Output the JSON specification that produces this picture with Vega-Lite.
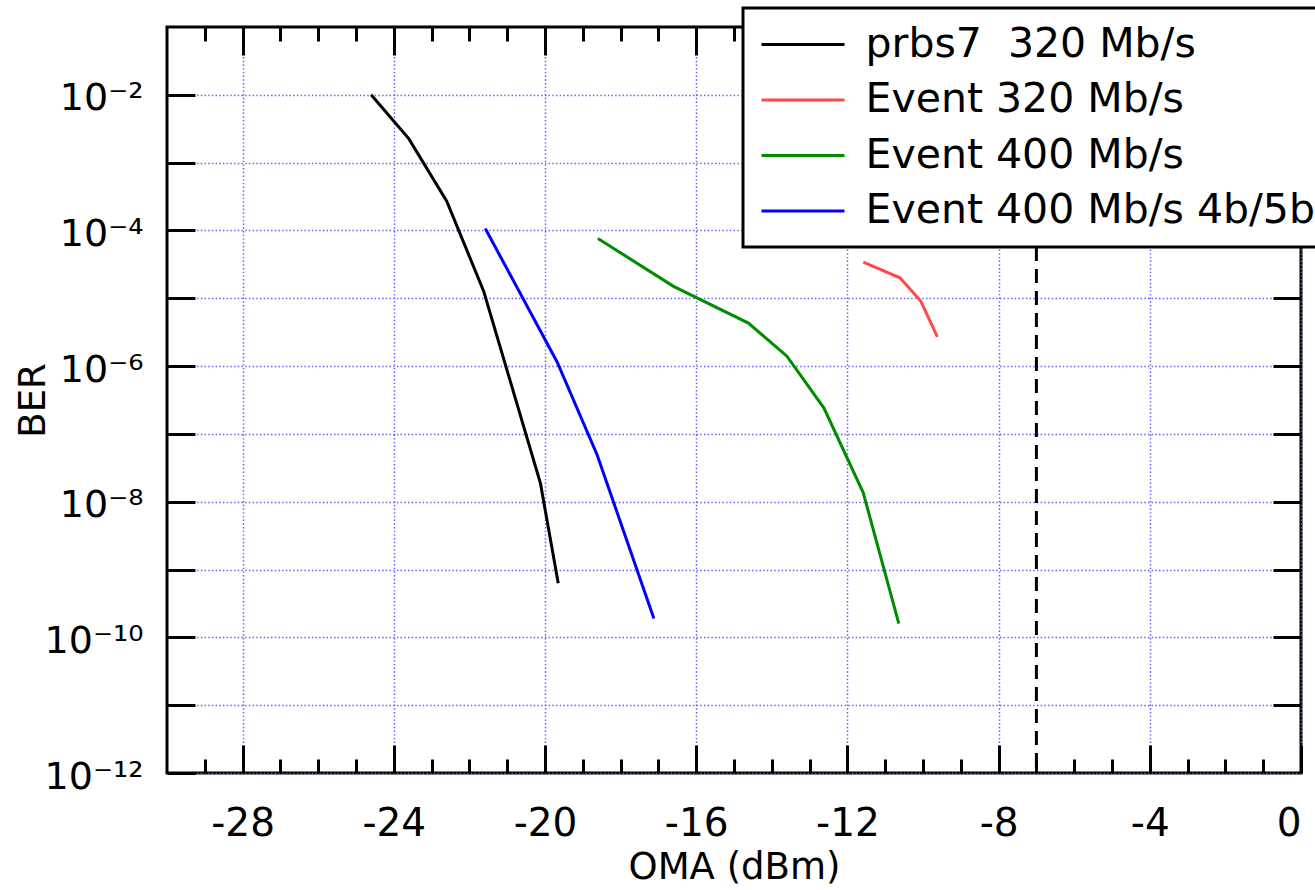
{
  "$schema": "https://vega.github.io/schema/vega-lite/v6.json",
  "width": 1134,
  "height": 746,
  "autosize": {"type": "none"},
  "padding": {"left": 167, "top": 27, "right": 14, "bottom": 117},
  "background": "white",
  "config": {
    "view": {"stroke": "black", "strokeWidth": 3},
    "font": "DejaVu Sans",
    "axis": {
      "domain": false,
      "tickColor": "black",
      "tickWidth": 3,
      "labelColor": "black",
      "titleColor": "black",
      "labelFont": "DejaVu Sans",
      "titleFont": "DejaVu Sans",
      "titleFontWeight": "normal",
      "gridColor": "#5c5cff",
      "gridDash": [1.4, 2.3],
      "gridWidth": 1.5,
      "gridOpacity": 1
    }
  },
  "datasets": {
    "curves": [
      {"series": "prbs7  320 Mb/s", "oma": -24.6, "ber": 1.0e-2},
      {"series": "prbs7  320 Mb/s", "oma": -23.6, "ber": 2.24e-3},
      {"series": "prbs7  320 Mb/s", "oma": -22.6, "ber": 2.7e-4},
      {"series": "prbs7  320 Mb/s", "oma": -21.62, "ber": 1.26e-5},
      {"series": "prbs7  320 Mb/s", "oma": -20.12, "ber": 1.86e-8},
      {"series": "prbs7  320 Mb/s", "oma": -19.65, "ber": 6.3e-10},
      {"series": "Event 320 Mb/s", "oma": -11.58, "ber": 3.4e-5},
      {"series": "Event 320 Mb/s", "oma": -10.61, "ber": 2.0e-5},
      {"series": "Event 320 Mb/s", "oma": -10.06, "ber": 9.1e-6},
      {"series": "Event 320 Mb/s", "oma": -9.62, "ber": 2.7e-6},
      {"series": "Event 400 Mb/s", "oma": -18.6, "ber": 7.6e-5},
      {"series": "Event 400 Mb/s", "oma": -16.6, "ber": 1.5e-5},
      {"series": "Event 400 Mb/s", "oma": -14.62, "ber": 4.3e-6},
      {"series": "Event 400 Mb/s", "oma": -13.6, "ber": 1.4e-6},
      {"series": "Event 400 Mb/s", "oma": -12.62, "ber": 2.4e-7},
      {"series": "Event 400 Mb/s", "oma": -11.58, "ber": 1.35e-8},
      {"series": "Event 400 Mb/s", "oma": -10.64, "ber": 1.6e-10},
      {"series": "Event 400 Mb/s 4b/5b", "oma": -21.58, "ber": 1.07e-4},
      {"series": "Event 400 Mb/s 4b/5b", "oma": -19.68, "ber": 1.15e-6},
      {"series": "Event 400 Mb/s 4b/5b", "oma": -18.62, "ber": 4.9e-8},
      {"series": "Event 400 Mb/s 4b/5b", "oma": -17.12, "ber": 1.9e-10}
    ],
    "marker": [{"x": -7}]
  },
  "layer": [
    {
      "data": {"name": "curves"},
      "mark": {"type": "line", "strokeWidth": 3},
      "encoding": {
        "x": {
          "field": "oma", "type": "quantitative",
          "scale": {"domain": [-30, 0], "nice": false, "zero": false},
          "axis": {
            "orient": "bottom",
            "values": [-28, -24, -20, -16, -12, -8, -4, 0],
            "tickSize": -28,
            "labelPadding": 59,
            "labelFontSize": 39,
            "labelExpr": "datum.value == 0 ? '0' : '-' + abs(datum.value)",
            "title": "OMA (dBm)",
            "titleFontSize": 37,
            "titlePadding": 6,
            "grid": true
          }
        },
        "y": {
          "field": "ber", "type": "quantitative",
          "scale": {"type": "log", "domain": [1e-12, 1e-1], "nice": false},
          "axis": {
            "orient": "left",
            "values": [1e-12, 1e-11, 1e-10, 1e-9, 1e-8, 1e-7, 1e-6, 1e-5, 1e-4, 1e-3, 1e-2],
            "tickSize": -28,
            "labelPadding": 52,
            "labelFontSize": 38,
            "labelOffset": 4,
            "labelExpr": "round(log(datum.value)/LN10) == -2 ? '10⁻²' : round(log(datum.value)/LN10) == -4 ? '10⁻⁴' : round(log(datum.value)/LN10) == -6 ? '10⁻⁶' : round(log(datum.value)/LN10) == -8 ? '10⁻⁸' : round(log(datum.value)/LN10) == -10 ? '10⁻¹⁰' : round(log(datum.value)/LN10) == -12 ? '10⁻¹²' : ''",
            "title": "BER",
            "titleFontSize": 37,
            "titlePadding": -8,
            "grid": true
          }
        },
        "color": {
          "field": "series", "type": "nominal",
          "scale": {
            "domain": ["prbs7  320 Mb/s", "Event 320 Mb/s", "Event 400 Mb/s", "Event 400 Mb/s 4b/5b"],
            "range": ["#000000", "#ff4a4a", "#008c00", "#0000ff"]
          },
          "legend": {
            "orient": "none",
            "legendX": 576,
            "legendY": -19,
            "title": null,
            "symbolType": "M-2.5,0H2.5",
            "symbolSize": 1102,
            "symbolStrokeWidth": 3,
            "labelFontSize": 41,
            "labelFont": "DejaVu Sans",
            "labelColor": "black",
            "labelLimit": 0,
            "labelExpr": "replace(datum.label, '  ', '\u00a0\u00a0')",
            "padding": 16,
            "symbolOffset": 23.5,
            "labelOffset": 42,
            "rowPadding": 13.5,
            "strokeColor": "black",
            "fillColor": "white",
            "cornerRadius": 0,
            "encode": {"legend": {"update": {"strokeWidth": {"value": 3}}}}
          }
        }
      }
    },
    {
      "data": {"name": "marker"},
      "mark": {"type": "rule", "color": "black", "strokeWidth": 3, "strokeDash": [14, 8]},
      "encoding": {
        "x": {
          "field": "x", "type": "quantitative",
          "scale": {"domain": [-30, 0], "nice": false, "zero": false},
          "axis": {
            "orient": "top",
            "values": [-28, -24, -20, -16, -12, -8, -4],
            "tickSize": -28,
            "labels": false,
            "grid": false,
            "title": null
          }
        }
      }
    },
    {
      "data": {"name": "marker"},
      "mark": {"type": "rule", "opacity": 0},
      "encoding": {
        "x": {
          "field": "x", "type": "quantitative",
          "scale": {"domain": [-30, 0], "nice": false, "zero": false},
          "axis": {
            "orient": "bottom",
            "values": [-29, -27, -26, -25, -23, -22, -21, -19, -18, -17, -15, -14, -13, -11, -10, -9, -7, -6, -5, -3, -2, -1],
            "tickSize": -14,
            "labels": false,
            "grid": false,
            "title": null
          }
        }
      }
    },
    {
      "data": {"name": "marker"},
      "mark": {"type": "rule", "opacity": 0},
      "encoding": {
        "x": {
          "field": "x", "type": "quantitative",
          "scale": {"domain": [-30, 0], "nice": false, "zero": false},
          "axis": {
            "orient": "top",
            "values": [-29, -27, -26, -25, -23, -22, -21, -19, -18, -17, -15, -14, -13, -11, -10, -9, -7, -6, -5, -3, -2, -1],
            "tickSize": -14,
            "labels": false,
            "grid": false,
            "title": null
          }
        }
      }
    },
    {
      "data": {"name": "curves"},
      "mark": {"type": "rule", "opacity": 0},
      "encoding": {
        "y": {
          "field": "ber", "type": "quantitative",
          "scale": {"type": "log", "domain": [1e-12, 1e-1], "nice": false},
          "axis": {
            "orient": "right",
            "values": [1e-11, 1e-10, 1e-9, 1e-8, 1e-7, 1e-6, 1e-5, 1e-4, 1e-3, 1e-2],
            "tickSize": -28,
            "labels": false,
            "grid": false,
            "title": null
          }
        }
      }
    }
  ],
  "resolve": {"axis": {"x": "independent", "y": "independent"}}
}
